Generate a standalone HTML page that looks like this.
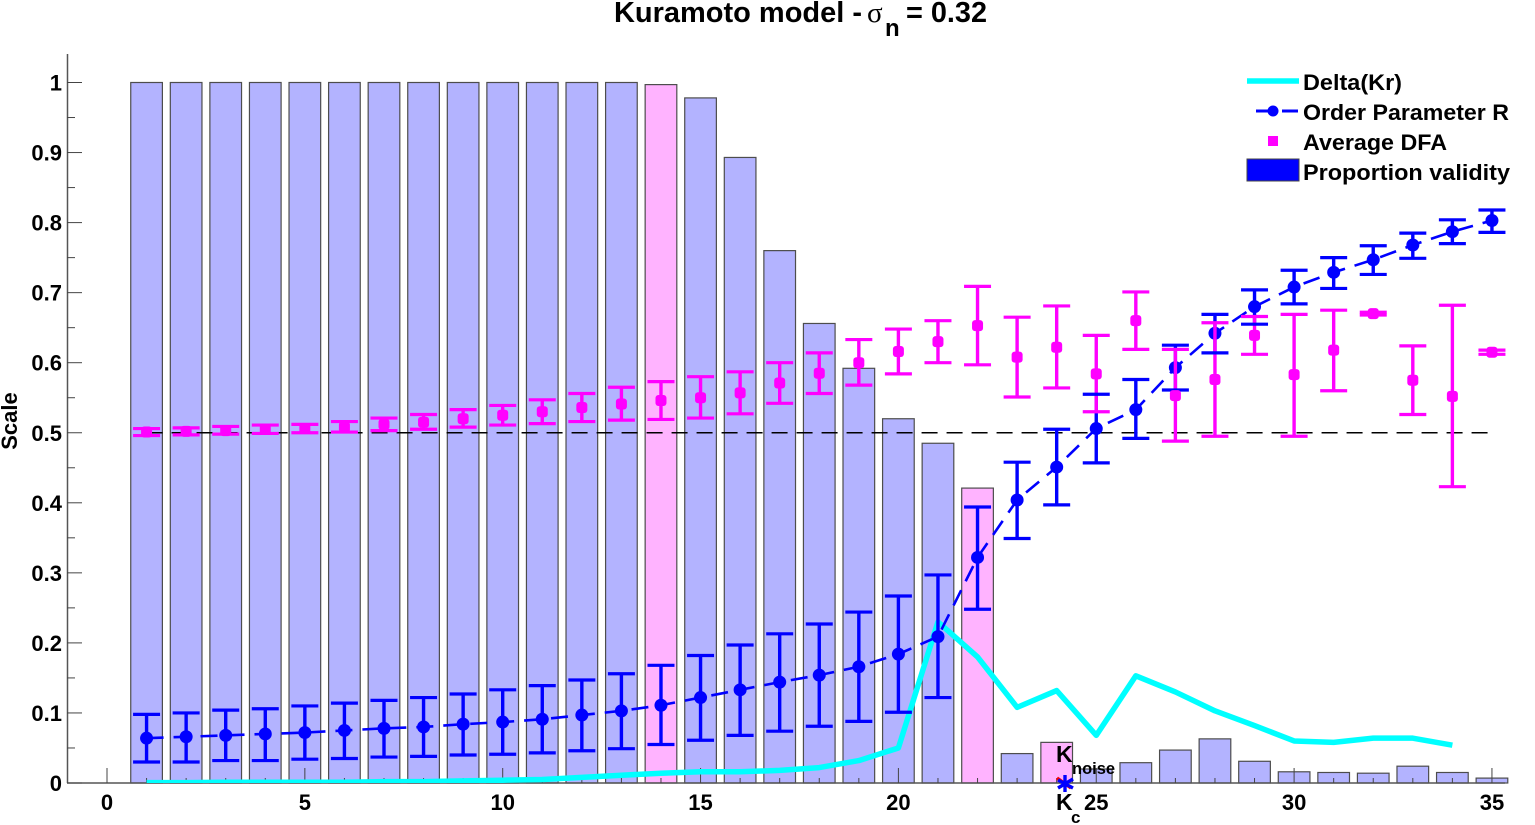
<!DOCTYPE html>
<html lang="en">
<head>
<meta charset="utf-8">
<title>Kuramoto model</title>
<style>
html,body{margin:0;padding:0;background:#fff;width:1535px;height:825px;overflow:hidden}
svg{display:block;font-family:"Liberation Sans",sans-serif;filter:blur(0.35px)}
text{fill:#000}
</style>
</head>
<body>
<svg id="chart" xmlns="http://www.w3.org/2000/svg" width="1535" height="825" viewBox="0 0 1535 825">
  <defs>
    <clipPath id="plotClip"><rect x="67" y="40" width="1440" height="743"/></clipPath>
  </defs>
  <rect x="0" y="0" width="1535" height="825" fill="#fff"/>
  <g id="bars"></g>
  <g id="axes"></g>
  <g id="delta" clip-path="url(#plotClip)"></g>
  <g id="ref"></g>
  <g id="order"></g>
  <g id="dfa"></g>
  <g id="orderCaps"></g>
  <g id="dfaMarkers"></g>

  <g font-weight="700">
    <text x="614" y="22" font-size="28.5" textLength="248" lengthAdjust="spacingAndGlyphs">Kuramoto model -</text>
    <text x="867" y="22" font-size="29" font-weight="400" font-family="'Liberation Serif','DejaVu Serif',serif">σ</text>
    <text x="885" y="36" font-size="24">n</text>
    <text x="906" y="22" font-size="28.5" textLength="81" lengthAdjust="spacingAndGlyphs">= 0.32</text>
  </g>
  <text transform="translate(17 421) rotate(-90)" text-anchor="middle" font-size="22" font-weight="700">Scale</text>

  <g>
    <line x1="1247" y1="81" x2="1299" y2="81" stroke="#00ffff" stroke-width="5.5"/>
    <text x="1303" y="90" font-size="22.5" font-weight="700" textLength="99" lengthAdjust="spacingAndGlyphs">Delta(Kr)</text>
    <line x1="1256" y1="111" x2="1273" y2="111" stroke="#0000ff" stroke-width="3"/>
    <line x1="1282" y1="111" x2="1298" y2="111" stroke="#0000ff" stroke-width="3"/>
    <circle cx="1273" cy="111" r="5.5" fill="#0000ff"/>
    <text x="1303" y="120" font-size="22.5" font-weight="700" textLength="206" lengthAdjust="spacingAndGlyphs">Order Parameter R</text>
    <rect x="1268" y="136" width="10" height="10" fill="#ff00ff"/>
    <text x="1303" y="150" font-size="22.5" font-weight="700" textLength="144" lengthAdjust="spacingAndGlyphs">Average DFA</text>
    <rect x="1247" y="159" width="52" height="22" fill="#0000ff" stroke="#444" stroke-width="1"/>
    <text x="1303" y="180" font-size="22.5" font-weight="700" textLength="207" lengthAdjust="spacingAndGlyphs">Proportion validity</text>
  </g>

  <g id="annot">
    <text x="1056" y="762" font-size="23" font-weight="700">K</text>
    <text x="1072" y="774" font-size="16.5" font-weight="700">noise</text>
    <text x="1056" y="810" font-size="23" font-weight="700">K</text>
    <text x="1071" y="823" font-size="17" font-weight="700">c</text>
    <g stroke-width="3.4" stroke-linecap="butt">
      <line x1="1057" y1="778" x2="1071" y2="788" stroke="#ff0000"/>
      <line x1="1065" y1="775" x2="1065" y2="792" stroke="#0000ff"/>
      <line x1="1058" y1="780" x2="1073" y2="788" stroke="#0000ff"/>
      <line x1="1073" y1="779" x2="1058" y2="788" stroke="#0000ff"/>
    </g>
  </g>
</svg>
<script>
const categories = [1,2,3,4,5,6,7,8,9,10,11,12,13,14,15,16,17,18,19,20,21,22,23,24,25,26,27,28,29,30,31,32,33,34,35];
const proportionValidity = [1,1,1,1,1,1,1,1,1,1,1,1,1,0.997,0.978,0.893,0.76,0.656,0.592,0.52,0.485,0.421,0.042,0.058,0.02,0.029,0.047,0.063,0.031,0.016,0.015,0.014,0.024,0.015,0.007];
const highlightedCategories = [14,22,24];
const orderMean = [0.064,0.066,0.068,0.070,0.072,0.075,0.078,0.080,0.084,0.087,0.091,0.097,0.103,0.111,0.122,0.133,0.144,0.154,0.166,0.184,0.209,0.322,0.404,0.451,0.506,0.533,0.593,0.642,0.680,0.708,0.729,0.747,0.768,0.787,0.803];
const orderUpper = [0.098,0.100,0.104,0.106,0.110,0.114,0.118,0.122,0.127,0.133,0.139,0.147,0.156,0.168,0.182,0.197,0.213,0.227,0.244,0.267,0.297,0.394,0.458,0.505,0.555,0.576,0.625,0.669,0.704,0.732,0.750,0.767,0.785,0.804,0.818];
const orderLower = [0.030,0.030,0.032,0.032,0.034,0.035,0.037,0.038,0.040,0.041,0.043,0.046,0.049,0.055,0.061,0.068,0.074,0.081,0.088,0.101,0.122,0.248,0.349,0.397,0.457,0.492,0.561,0.614,0.655,0.684,0.706,0.726,0.749,0.770,0.786];
const dfaMean = [0.501,0.502,0.503,0.505,0.506,0.508,0.512,0.515,0.520,0.525,0.530,0.536,0.541,0.546,0.550,0.557,0.571,0.585,0.600,0.616,0.630,0.653,0.608,0.622,0.584,0.660,0.553,0.576,0.639,0.583,0.618,0.670,0.575,0.552,0.615];
const dfaUpper = [0.506,0.507,0.509,0.511,0.512,0.516,0.521,0.526,0.533,0.539,0.547,0.556,0.565,0.573,0.580,0.587,0.600,0.614,0.633,0.648,0.660,0.709,0.665,0.681,0.639,0.701,0.619,0.657,0.666,0.669,0.675,0.672,0.624,0.682,0.618];
const dfaLower = [0.496,0.497,0.498,0.499,0.500,0.501,0.503,0.505,0.508,0.511,0.513,0.516,0.518,0.519,0.521,0.527,0.542,0.556,0.568,0.584,0.600,0.597,0.551,0.564,0.530,0.619,0.488,0.495,0.612,0.495,0.560,0.668,0.526,0.423,0.612];
const deltaKr = [0.0005,0.0005,0.001,0.001,0.001,0.001,0.002,0.002,0.003,0.004,0.005,0.008,0.011,0.014,0.016,0.016,0.018,0.022,0.032,0.05,0.23,0.18,0.108,0.132,0.068,0.153,0.13,0.103,0.082,0.060,0.058,0.064,0.064,0.054];
const xTickLabels = [0,5,10,15,20,25,30,35];
const yTickLabels = [0,0.1,0.2,0.3,0.4,0.5,0.6,0.7,0.8,0.9,1];
const yMinorTicks = [0.05,0.15,0.25,0.35,0.45,0.55,0.65,0.75,0.85,0.95];
const referenceLevel = 0.5;

const NS = 'http://www.w3.org/2000/svg';
const xScale = v => 107 + v * 39.57;
const yScale = v => 783 - v * 700.5;
const BAR_WIDTH = 0.8;
const CAP_HALF = 13.5;

function make(parentId, tag, attrs, text) {
  const el = document.createElementNS(NS, tag);
  Object.keys(attrs).forEach(k => el.setAttribute(k, attrs[k]));
  if (text !== undefined) el.textContent = text;
  document.getElementById(parentId).appendChild(el);
  return el;
}

categories.forEach((c, i) => {
  const x0 = xScale(c - BAR_WIDTH / 2);
  const w = xScale(c + BAR_WIDTH / 2) - x0;
  const top = yScale(proportionValidity[i]);
  const pink = highlightedCategories.includes(c);
  const el = make('bars', 'rect', {x: x0, y: top, width: w, height: yScale(0) - top,
    fill: pink ? '#ffb3ff' : '#b3b3ff', stroke: '#4d4d4d', 'stroke-width': 1.2});
  
  
});

const yAxisLine = make('axes', 'line', {x1: 67.5, y1: 54, x2: 67.5, y2: 783, stroke: '#555', 'stroke-width': 1.5});


const xAxisLine = make('axes', 'line', {x1: 67, y1: 783, x2: 1505, y2: 783, stroke: '#555', 'stroke-width': 1.5});



[0].concat(categories).forEach(c => {
  const major = xTickLabels.includes(c);
  const t = make('axes', 'line', {x1: xScale(c), y1: 783, x2: xScale(c), y2: major ? 768 : 778, stroke: '#444', 'stroke-width': 1});
  
  
});
xTickLabels.forEach(v => {
  const t = make('axes', 'text', {x: xScale(v), y: 810, 'text-anchor': 'middle', 'font-size': 22, 'font-weight': 700}, String(v));
  
  
});
yTickLabels.forEach(v => {
  const t = make('axes', 'line', {x1: 67, y1: yScale(v), x2: 82, y2: yScale(v), stroke: '#444', 'stroke-width': 1});
  
  
  const l = make('axes', 'text', {x: 62, y: yScale(v) + 8, 'text-anchor': 'end', 'font-size': 22, 'font-weight': 700}, String(v));
  
  
});
yMinorTicks.forEach(v => {
  const m = make('axes', 'line', {x1: 67, y1: yScale(v), x2: 75, y2: yScale(v), stroke: '#444', 'stroke-width': 1});
  
  
});

const deltaLine = make('delta', 'polyline', {
  points: deltaKr.map((v, i) => xScale(categories[i]) + ',' + yScale(v)).join(' '),
  fill: 'none', stroke: '#00ffff', 'stroke-width': 5.5, 'stroke-linejoin': 'round'});



const refLine = make('ref', 'line', {x1: xScale(1), y1: yScale(referenceLevel), x2: xScale(35), y2: yScale(referenceLevel),
  stroke: '#000', 'stroke-width': 1.6, 'stroke-dasharray': '16 9'});



const orderLine = make('order', 'polyline', {
  points: orderMean.map((v, i) => xScale(categories[i]) + ',' + yScale(v)).join(' '),
  fill: 'none', stroke: '#0000ff', 'stroke-width': 2.6, 'stroke-dasharray': '17 10'});



categories.forEach((c, i) => {
  const x = xScale(c);
  const stem = make('order', 'line', {x1: x, y1: yScale(orderLower[i]), x2: x, y2: yScale(orderUpper[i]), stroke: '#0000ff', 'stroke-width': 3.4});
  
  
  const dot = make('order', 'circle', {cx: x, cy: yScale(orderMean[i]), r: 6.5, fill: '#0000ff'});
  
  

  const dStem = make('dfa', 'line', {x1: x, y1: yScale(dfaLower[i]), x2: x, y2: yScale(dfaUpper[i]), stroke: '#ff00ff', 'stroke-width': 3.4});
  
  
  [dfaLower[i], dfaUpper[i]].forEach(v => {
    const cap = make('dfa', 'line', {x1: x - CAP_HALF, y1: yScale(v), x2: x + CAP_HALF, y2: yScale(v), stroke: '#ff00ff', 'stroke-width': 3.2});
    
    
  });

  [orderLower[i], orderUpper[i]].forEach(v => {
    const cap = make('orderCaps', 'line', {x1: x - CAP_HALF, y1: yScale(v), x2: x + CAP_HALF, y2: yScale(v), stroke: '#0000ff', 'stroke-width': 3.2});
    
    
  });

  const m = make('dfaMarkers', 'rect', {x: x - 5.5, y: yScale(dfaMean[i]) - 5.5, width: 11, height: 11, rx: 3, fill: '#ff00ff'});
  
  
});
</script>
</body>
</html>
